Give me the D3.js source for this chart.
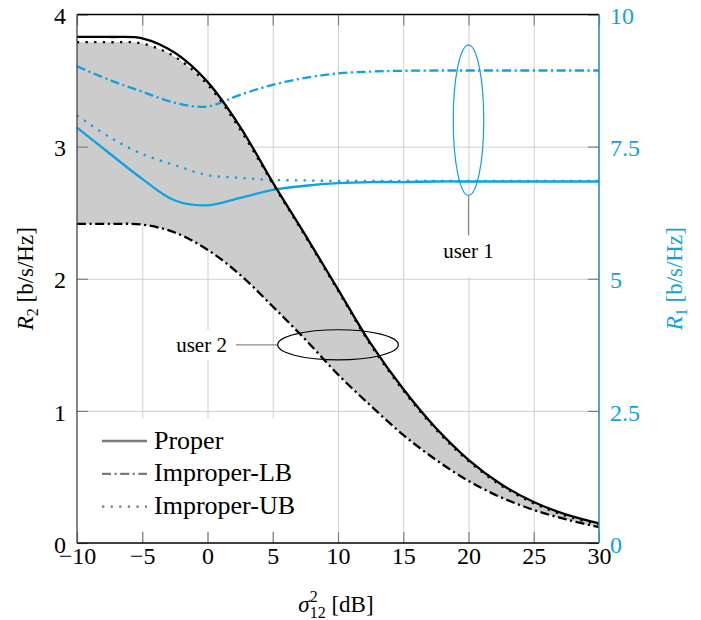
<!DOCTYPE html>
<html>
<head>
<meta charset="utf-8">
<script src="https://cdn.jsdelivr.net/npm/d3@7"></script>
<style>
  body { margin: 0; background: #fff; }
  text { font-family: "Liberation Serif", "Times New Roman", serif; }
</style>
</head>
<body>
<div id="chart"></div>
<script>
// sigma_12^2 [dB]
var snr = [-10, -7.5, -5, -2.5, 0, 2.5, 5, 7.5, 10, 12.5, 15, 17.5, 20, 22.5, 25, 27.5, 30];

// user 2, left axis R2
var r2Proper = [3.83, 3.83, 3.82, 3.71, 3.49, 3.15, 2.73, 2.33, 1.92, 1.51, 1.165, 0.87, 0.63, 0.445, 0.31, 0.215, 0.149];
var r2ImpLB  = [2.415, 2.415, 2.41, 2.35, 2.22, 2.03, 1.79, 1.54, 1.275, 1.04, 0.818, 0.63, 0.47, 0.345, 0.25, 0.178, 0.12];
var r2ImpUB  = [3.79, 3.79, 3.78, 3.68, 3.47, 3.13, 2.72, 2.32, 1.91, 1.50, 1.155, 0.86, 0.62, 0.435, 0.30, 0.205, 0.139];

// user 1, right axis R1
var r1Proper = [7.86, 7.37, 6.89, 6.48, 6.39, 6.53, 6.68, 6.76, 6.81, 6.83, 6.83, 6.84, 6.84, 6.84, 6.84, 6.84, 6.84];
var r1ImpLB  = [9.02, 8.76, 8.54, 8.33, 8.26, 8.48, 8.67, 8.80, 8.885, 8.92, 8.935, 8.94, 8.94, 8.94, 8.94, 8.94, 8.94];
var r1ImpUB  = [8.09, 7.68, 7.36, 7.15, 6.96, 6.91, 6.87, 6.86, 6.85, 6.85, 6.85, 6.85, 6.85, 6.85, 6.85, 6.85, 6.85];

var xTicks = [-10, -5, 0, 5, 10, 15, 20, 25, 30];
var leftTicks = [0, 1, 2, 3, 4];
var rightTicks = [0, 2.5, 5, 7.5, 10];
var legendLabels = ["Proper", "Improper-LB", "Improper-UB"];

var blue = "#0ea2e0";
var dashDot = "9,3.5,2.2,3.5";
var dotted = "2.3,6.3";
var legendDash = [null, dashDot, dotted];

var width = 701, height = 620;
var pL = 77, pR = 599, pT = 14.5, pB = 543;

var svg = d3.select("#chart").append("svg")
    .attr("width", width)
    .attr("height", height);

var x = d3.scaleLinear().domain([-10, 30]).range([pL, pR]);
var yL = d3.scaleLinear().domain([0, 4]).range([pB, pT]);
var yR = d3.scaleLinear().domain([0, 10]).range([pB, pT]);
var curve = d3.curveCatmullRom.alpha(0.5);

// grid
var grid = svg.append("g");
grid.append("g")
    .attr("transform", "translate(0," + pB + ")")
    .call(d3.axisBottom(x).tickValues(xTicks.slice(1, -1)).tickSize(-(pB - pT)).tickFormat(""));
grid.append("g")
    .attr("transform", "translate(" + pL + ",0)")
    .call(d3.axisLeft(yL).tickValues([1, 2, 3]).tickSize(-(pR - pL)).tickFormat(""));
grid.selectAll(".domain").remove();
grid.selectAll("line").attr("stroke", "#cfcfcf").attr("stroke-width", 1);

function pts(ys) { return snr.map(function(d, i) { return [d, ys[i]]; }); }

// shaded region between the improper bounds
var area = d3.area()
    .x(function(d) { return x(d[0]); })
    .y0(function(d) { return yL(d[1]); })
    .y1(function(d) { return yL(d[2]); })
    .curve(curve);
svg.append("path")
    .datum(snr.map(function(d, i) { return [d, r2ImpLB[i], r2ImpUB[i]]; }))
    .attr("d", area)
    .attr("fill", "#cccccc");

var lineL = d3.line().x(function(d) { return x(d[0]); }).y(function(d) { return yL(d[1]); }).curve(curve);
var lineR = d3.line().x(function(d) { return x(d[0]); }).y(function(d) { return yR(d[1]); }).curve(curve);

// user 1 (blue)
[[r1Proper, null], [r1ImpLB, dashDot], [r1ImpUB, dotted]].forEach(function(s) {
  svg.append("path")
      .datum(pts(s[0]))
      .attr("d", lineR)
      .attr("fill", "none")
      .attr("stroke", blue)
      .attr("stroke-width", 2.3)
      .attr("stroke-dasharray", s[1]);
});

// user 2 (black)
[[r2ImpUB, dotted], [r2ImpLB, dashDot], [r2Proper, null]].forEach(function(s) {
  svg.append("path")
      .datum(pts(s[0]))
      .attr("d", lineL)
      .attr("fill", "none")
      .attr("stroke", "#000")
      .attr("stroke-width", 2.3)
      .attr("stroke-dasharray", s[1]);
});

// annotations
var ann = svg.append("g");
// user 1
var e1x = x(20), e1y = yR(8.0), e1ry = yR(8.0) - yR(9.42);
ann.append("rect").attr("x", e1x - 32).attr("y", yR(5.82)).attr("width", 64).attr("height", yR(5.03) - yR(5.82)).attr("fill", "#fff");
ann.append("line").attr("x1", e1x).attr("x2", e1x).attr("y1", e1y + e1ry).attr("y2", yR(5.82))
    .attr("stroke", "#8a8a8a").attr("stroke-width", 1.2);
ann.append("ellipse").attr("cx", e1x).attr("cy", e1y)
    .attr("rx", x(21.17) - x(20)).attr("ry", e1ry)
    .attr("fill", "none").attr("stroke", blue).attr("stroke-width", 1.2);
ann.append("text").attr("x", e1x).attr("y", yR(5.39)).attr("text-anchor", "middle")
    .attr("font-size", 21).text("user 1");

// user 2
var e2x = x(10), e2y = yL(1.5);
ann.append("rect").attr("x", x(-2.6)).attr("y", e2y - 15).attr("width", x(1.6) - x(-2.6)).attr("height", 30).attr("fill", "#fff");
ann.append("line").attr("x1", x(2.18)).attr("x2", x(5.38)).attr("y1", e2y).attr("y2", e2y)
    .attr("stroke", "#8a8a8a").attr("stroke-width", 1.2);
ann.append("ellipse").attr("cx", e2x).attr("cy", e2y)
    .attr("rx", x(14.62) - x(10)).attr("ry", yL(1.5) - yL(1.614))
    .attr("fill", "none").attr("stroke", "#000").attr("stroke-width", 1.2);
ann.append("text").attr("x", x(1.49)).attr("y", e2y + 7).attr("text-anchor", "end")
    .attr("font-size", 21).text("user 2");

// legend
var legend = svg.append("g").attr("transform", "translate(86,418)");
legend.append("rect").attr("width", 218).attr("height", 113).attr("fill", "#fff");
var item = legend.selectAll("g.item")
    .data(legendLabels)
    .enter()
    .append("g")
    .attr("class", "item")
    .attr("transform", function(d, i) { return "translate(0," + (23 + i * 32.8) + ")"; });
item.append("line")
    .attr("x1", 16).attr("x2", 61)
    .attr("stroke", "#7a7a7a").attr("stroke-width", 2.3)
    .attr("stroke-dasharray", function(d, i) { return legendDash[i]; });
item.append("text")
    .attr("x", 68).attr("y", 7.5)
    .attr("font-size", 26)
    .text(function(d) { return d; });

// ticks + labels
function styleAxis(g, color) {
  g.select(".domain").remove();
  g.selectAll("line").attr("stroke", "#808080").attr("stroke-width", 1.2);
  g.selectAll("text").attr("font-size", 24).attr("fill", color)
      .style("font-family", "'Liberation Serif', serif");
}
svg.append("g").attr("transform", "translate(0," + pB + ")")
    .call(d3.axisBottom(x).tickValues(xTicks).tickSize(-11).tickPadding(4))
    .call(styleAxis, "#000");
svg.append("g").attr("transform", "translate(0," + pT + ")")
    .call(d3.axisTop(x).tickValues(xTicks).tickSize(-11).tickFormat(""))
    .call(styleAxis, "#000");
svg.append("g").attr("transform", "translate(" + pL + ",0)")
    .call(d3.axisLeft(yL).tickValues(leftTicks).tickSize(-11).tickPadding(11).tickFormat(d3.format("d")))
    .call(styleAxis, "#000")
    .selectAll("text").attr("dy", "0.38em");
svg.append("g").attr("transform", "translate(" + pR + ",0)")
    .call(d3.axisRight(yR).tickValues(rightTicks).tickSize(-11).tickPadding(11).tickFormat(function(d) { return d; }))
    .call(styleAxis, blue)
    .selectAll("text").attr("dy", "0.38em");

// frame
svg.append("line").attr("x1", pL).attr("x2", pR).attr("y1", pT).attr("y2", pT).attr("stroke", "#000").attr("stroke-width", 1.3);
svg.append("line").attr("x1", pL).attr("x2", pR).attr("y1", pB).attr("y2", pB).attr("stroke", "#000").attr("stroke-width", 1.3);
svg.append("line").attr("x1", pL).attr("x2", pL).attr("y1", pT).attr("y2", pB).attr("stroke", "#444").attr("stroke-width", 1.3);
svg.append("line").attr("x1", pR).attr("x2", pR).attr("y1", pT).attr("y2", pB).attr("stroke", "#2b8cbe").attr("stroke-width", 1.6);

// axis titles
var xt = svg.append("text").attr("x", 336).attr("y", 612).attr("text-anchor", "middle").attr("font-size", 23);
xt.append("tspan").attr("font-style", "italic").text("σ");
xt.append("tspan").attr("font-size", 16).attr("dy", -10).text("2");
xt.append("tspan").attr("font-size", 16).attr("dx", -8).attr("dy", 16).text("12");
xt.append("tspan").attr("dy", -6).text(" [dB]");

function yTitle(tx, sub, color) {
  var t = svg.append("text")
      .attr("transform", "translate(" + tx + "," + ((pT + pB) / 2) + ") rotate(-90)")
      .attr("text-anchor", "middle")
      .attr("font-size", 23)
      .attr("fill", color);
  t.append("tspan").attr("font-style", "italic").text("R");
  t.append("tspan").attr("font-size", 16).attr("dy", 5).text(sub);
  t.append("tspan").attr("dy", -5).text(" [b/s/Hz]");
}
yTitle(33, "2", "#000");
yTitle(682, "1", blue);
</script>
</body>
</html>
